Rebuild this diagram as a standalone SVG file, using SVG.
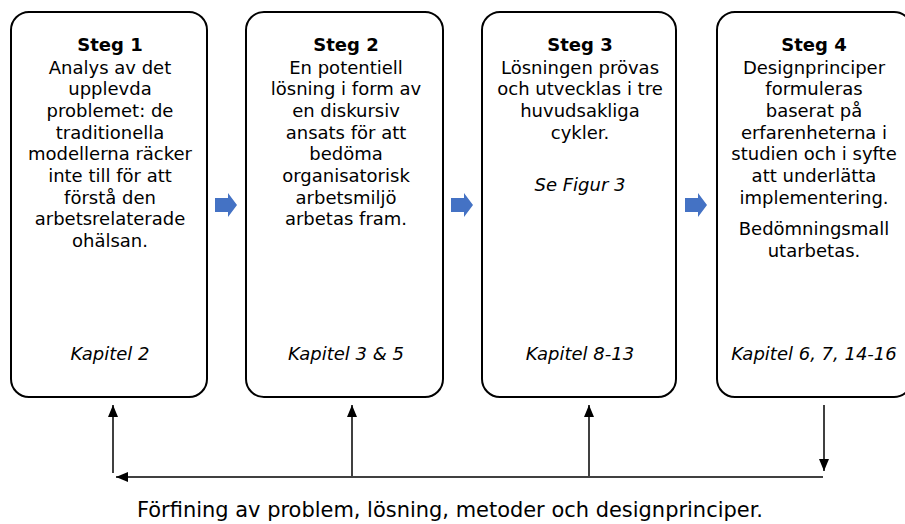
<svg xmlns="http://www.w3.org/2000/svg" width="905" height="524" viewBox="0 0 905 524">
<style>
.box{fill:#fff;stroke:#000;stroke-width:2}
.t{font-family:"DejaVu Sans","Open Sans",sans-serif;font-size:18px;fill:#000;text-anchor:middle}
.b{font-weight:bold}
.i{font-style:italic}
.blue{fill:#4472C4}
.con{stroke:#000;stroke-width:1.5;fill:none;marker-end:url(#ah)}
</style>
<defs>
<marker id="ah" viewBox="0 0 12 10" refX="12" refY="5" markerWidth="12" markerHeight="10" markerUnits="userSpaceOnUse" orient="auto">
<path d="M0,0 L12,5 L0,10 z" fill="#000"/>
</marker>
</defs>
<rect width="905" height="524" fill="#fff"/>
<g id="steg1">
<rect class="box" x="11" y="12" width="196" height="385" rx="18"/>
<text class="t b" x="110" y="51">Steg 1</text>
<text class="t" x="110" y="73.5">Analys av det</text>
<text class="t" x="110" y="95">upplevda</text>
<text class="t" x="110" y="117">problemet: de</text>
<text class="t" x="110" y="138.5">traditionella</text>
<text class="t" x="110" y="160">modellerna räcker</text>
<text class="t" x="110" y="182">inte till för att</text>
<text class="t" x="110" y="203.5">förstå den</text>
<text class="t" x="110" y="225">arbetsrelaterade</text>
<text class="t" x="110" y="247">ohälsan.</text>
<text class="t i" x="110" y="360">Kapitel 2</text>
</g>
<g id="steg2">
<rect class="box" x="246" y="12" width="197" height="385" rx="18"/>
<text class="t b" x="346" y="51">Steg 2</text>
<text class="t" x="346" y="73.5">En potentiell</text>
<text class="t" x="346" y="95">lösning i form av</text>
<text class="t" x="346" y="117">en diskursiv</text>
<text class="t" x="346" y="138.5">ansats för att</text>
<text class="t" x="346" y="160">bedöma</text>
<text class="t" x="346" y="182">organisatorisk</text>
<text class="t" x="346" y="203.5">arbetsmiljö</text>
<text class="t" x="346" y="225">arbetas fram.</text>
<text class="t i" x="346" y="360">Kapitel 3 &amp; 5</text>
</g>
<g id="steg3">
<rect class="box" x="482" y="12" width="194" height="385" rx="18"/>
<text class="t b" x="580" y="51">Steg 3</text>
<text class="t" x="580" y="73.5">Lösningen prövas</text>
<text class="t" x="580" y="95">och utvecklas i tre</text>
<text class="t" x="580" y="117">huvudsakliga</text>
<text class="t" x="580" y="138.5">cykler.</text>
<text class="t i" x="580" y="191">Se Figur 3</text>
<text class="t i" x="580" y="360">Kapitel 8-13</text>
</g>
<g id="steg4">
<rect class="box" x="717" y="12" width="195" height="385" rx="18"/>
<text class="t b" x="814" y="51">Steg 4</text>
<text class="t" x="814" y="73.5">Designprinciper</text>
<text class="t" x="814" y="95">formuleras</text>
<text class="t" x="814" y="117">baserat på</text>
<text class="t" x="814" y="138.5">erfarenheterna i</text>
<text class="t" x="814" y="160">studien och i syfte</text>
<text class="t" x="814" y="182">att underlätta</text>
<text class="t" x="814" y="203.5">implementering.</text>
<text class="t" x="814" y="235">Bedömningsmall</text>
<text class="t" x="814" y="257">utarbetas.</text>
<text class="t i" x="814" y="360">Kapitel 6, 7, 14-16</text>
</g>
<g id="flow-arrows">
<polygon class="blue" points="215,198 228,198 228,193 237,205 228,217 228,212 215,212"/>
<polygon class="blue" points="451,198 464,198 464,193 473,205 464,217 464,212 451,212"/>
<polygon class="blue" points="685,198 698,198 698,193 707,205 698,217 698,212 685,212"/>
</g>
<g id="connectors">
<line class="con" x1="113" y1="473" x2="113" y2="405"/>
<line class="con" x1="352" y1="476" x2="352" y2="405"/>
<line class="con" x1="589" y1="476" x2="589" y2="405"/>
<line class="con" x1="824" y1="405" x2="824" y2="471"/>
<line class="con" x1="823" y1="477" x2="116" y2="477"/>
</g>
<text class="t" style="font-size:21px" x="450" y="517" textLength="626" lengthAdjust="spacingAndGlyphs">Förfining av problem, lösning, metoder och designprinciper.</text>
</svg>
